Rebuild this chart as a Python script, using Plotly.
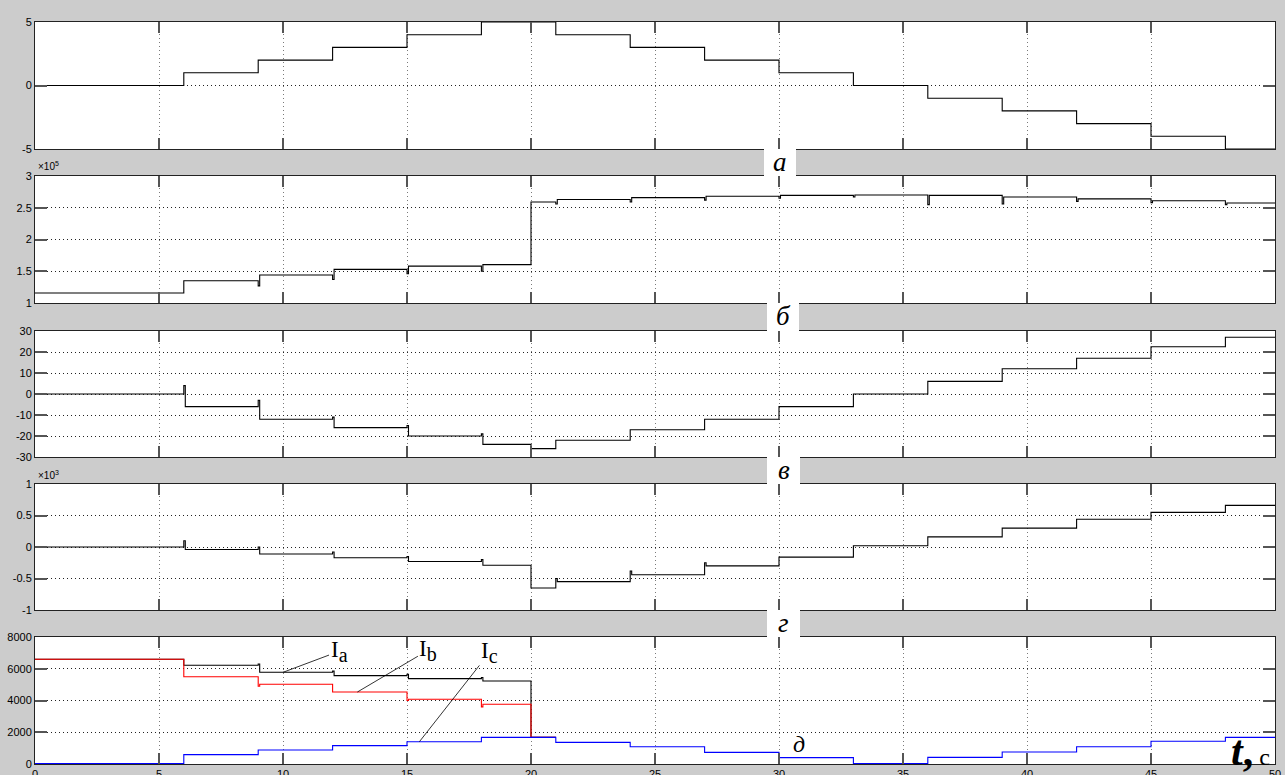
import plotly.graph_objects as go

# ---------------- data ----------------
# segment boundaries (s)
t_edges = [0, 6, 9, 12, 15, 18, 20, 21, 24, 27, 30, 33, 36, 39, 42, 45, 48, 50]

# panel а
a_levels = [0, 1, 2, 3, 4, 5, 5, 4, 3, 2, 1, 0, -1, -2, -3, -4, -5]
a_spikes = [None] * 16

# panel б  (values, axis shown in units of 10^5)
b_levels = [115700, 135000, 144000, 153000, 158000, 160500, 259000, 263000, 266000,
            268000, 269500, 270000, 269500, 267000, 264000, 261000, 257500]
b_spikes = [None, 127000, 137000, 146000, 150000, None, 256000, 259000, 262000,
            265000, 267000, 255000, 256000, 260000, 258000, 255000]

# panel в
c_levels = [0, -6, -12, -16, -20, -24, -26, -22, -17, -12, -6, 0, 6, 12, 17, 22.5, 27]
c_spikes = [4, -3, -11, -15, -19, None, None, None, None, None, None, None, None, None, None, None]

# panel г  (values, axis shown in units of 10^3)
d_levels = [0, -40, -110, -170, -230, -290, -650, -550, -440, -300, -160, 20, 160, 300,
            440, 550, 660]
d_spikes = [100, 0, -80, -150, -200, None, -500, -380, -250, None, None, None, None, None,
            None, None]

# panel д : phase currents
i_edges = [0, 6, 9, 12, 15, 18, 20, 21]
ia_levels = [6600, 6220, 5775, 5565, 5375, 5230, 1680]
ia_spikes = [None, 6300, 5850, 5650, 5450, None]
ib_levels = [6600, 5500, 5020, 4535, 4075, 3760, 1680]
ib_spikes = [None, 4900, None, 4000, 3600, None]
ic_levels = [30, 590, 880, 1155, 1405, 1680, 1680, 1365, 1090, 735, 400, 30, 420, 755,
             1090, 1430, 1680]

x_ticks = list(range(0, 51, 5))
panel_letters = ["а", "б", "в", "г"]


def steps(edges, levels, spikes=None, dt=0.06):
    xs, ys = [edges[0]], [levels[0]]
    for i in range(1, len(levels)):
        T = edges[i]
        sp = spikes[i - 1] if spikes is not None and i - 1 < len(spikes) else None
        if sp is not None:
            xs += [T, T + dt]
            ys += [sp, levels[i]]
        else:
            xs.append(T)
            ys.append(levels[i])
    xs.append(edges[-1])
    ys.append(levels[-1])
    return xs, ys


# ---------------- layout geometry ----------------
W, H = 1285, 775
ML, MR, MT, MB = 35, 10, 22, 11
PW, PH = W - ML - MR, H - MT - MB


def py(px):  # pixel y -> paper y
    return (H - MB - px) / PH


def pxx(px):  # pixel x -> paper x
    return (px - ML) / PW


panels_px = [(22, 149), (176, 303), (331, 457), (484, 610), (637, 764)]
domains = [[py(b), py(t)] for t, b in panels_px]

fig = go.Figure()
FONT = "Liberation Sans"
SERIF = "Liberation Serif"


def add(xs, ys, idx, color="black", width=1.1, scale=1.0):
    fig.add_trace(go.Scatter(
        x=xs, y=[v / scale for v in ys], mode="lines", line=dict(color=color, width=width, shape="hv"),
        xaxis="x" if idx == 1 else f"x{idx}", yaxis="y" if idx == 1 else f"y{idx}",
        showlegend=False, hoverinfo="skip"))


add(*steps(t_edges, a_levels, a_spikes), 1)
add(*steps(t_edges, b_levels, b_spikes), 2, scale=1e5)
add(*steps(t_edges, c_levels, c_spikes), 3)
add(*steps(t_edges, d_levels, d_spikes), 4, scale=1e3)
add(*steps(i_edges, ia_levels, ia_spikes), 5, color="black")
add(*steps(i_edges, ib_levels, ib_spikes), 5, color="#ff0000")
add(*steps(t_edges, ic_levels), 5, color="#0000ff")

y_specs = [
    dict(range=[-5, 5], tickvals=[-5, 0, 5], ticktext=["-5", "0", "5"]),
    dict(range=[1, 3], tickvals=[1, 1.5, 2, 2.5, 3], ticktext=["1", "1.5", "2", "2.5", "3"]),
    dict(range=[-30, 30], tickvals=[-30, -20, -10, 0, 10, 20, 30],
         ticktext=["-30", "-20", "-10", "0", "10", "20", "30"]),
    dict(range=[-1, 1], tickvals=[-1, -0.5, 0, 0.5, 1], ticktext=["-1", "-0.5", "0", "0.5", "1"]),
    dict(range=[0, 8000], tickvals=[0, 2000, 4000, 6000, 8000],
         ticktext=["0", "2000", "4000", "6000", "8000"]),
]

common = dict(ticks="inside", tickcolor="#555555", tickwidth=1.5, showline=True, linecolor="#222222",
              linewidth=1, mirror="ticks", showgrid=True, griddash="1px,3px", zeroline=False,
              automargin=False, tickfont=dict(family=FONT, size=11, color="black"))
lay = {}
for i in range(1, 6):
    xn = "xaxis" if i == 1 else f"xaxis{i}"
    yn = "yaxis" if i == 1 else f"yaxis{i}"
    lay[xn] = dict(domain=[0, 1], range=[0, 50], anchor="y" if i == 1 else f"y{i}",
                   tickvals=x_ticks, ticktext=[str(v) for v in x_ticks], ticklen=11,
                   gridcolor="#7a7a7a", gridwidth=1, showticklabels=(i == 5), **common)
    lay[yn] = dict(domain=domains[i - 1], anchor="x" if i == 1 else f"x{i}", ticklen=12,
                   gridcolor="#222222", gridwidth=1, **y_specs[i - 1], **common)

fig.update_layout(width=W, height=H, margin=dict(l=ML, r=MR, t=MT, b=MB, pad=0, autoexpand=False),
                  paper_bgcolor="#cccccc", plot_bgcolor="white", **lay)

# white label boxes in the gaps
boxes = [(764, 796, 149, 176), (767, 799, 303, 331), (767, 800, 457, 484), (767, 800, 610, 637)]
shapes = []
annos = []
for (x0, x1, y0, y1), letter in zip(boxes, panel_letters):
    shapes.append(dict(type="rect", xref="paper", yref="paper", x0=pxx(x0), x1=pxx(x1),
                       y0=py(y1), y1=py(y0), fillcolor="white", line=dict(width=0), layer="above"))
    annos.append(dict(xref="paper", yref="paper", x=pxx((x0 + x1) / 2), y=py((y0 + y1) / 2 - 1),
                      text=f"<i>{letter}</i>", showarrow=False, xanchor="center", yanchor="middle",
                      font=dict(family=SERIF, size=27, color="black")))
fig.update_layout(shapes=shapes)

# exponent labels
for txt, ypx in [("×10<sup>5</sup>", 166), ("×10<sup>3</sup>", 475)]:
    annos.append(dict(xref="paper", yref="paper", x=pxx(36), y=py(ypx), text=txt, showarrow=False,
                      xanchor="left", yanchor="middle", font=dict(family=FONT, size=10, color="black")))

# phase labels with leader lines
for name, tx, ty, ax, ay in [("a", 10, 5775, 56, -21), ("b", 13, 4535, 71, -42), ("c", 15.5, 1405, 70, -89)]:
    annos.append(dict(xref="x5", yref="y5", x=tx, y=ty, ax=ax, ay=ay, axref="pixel", ayref="pixel",
                      text=f"I<sub><span style='font-size:20px'>{name}</span></sub>", showarrow=True,
                      arrowhead=0, arrowwidth=0.8, arrowcolor="black",
                      font=dict(family=SERIF, size=23, color="black")))

annos.append(dict(xref="x5", yref="y5", x=30.8, y=1260, text="<i>д</i>", showarrow=False,
                  xanchor="center", yanchor="middle", font=dict(family=SERIF, size=24, color="black")))
annos.append(dict(xref="paper", yref="paper", x=pxx(1272), y=py(751),
                  text="<span style='font-size:42px'><b><i>t</i>,</b></span> <span style='font-size:24px'>с</span>",
                  showarrow=False, xanchor="right", yanchor="middle",
                  font=dict(family=SERIF, size=24, color="black")))
fig.update_layout(annotations=annos)

fig.write_html("out.html", config={"displayModeBar": False},
               post_script="document.body.style.margin='0';document.body.style.overflow='hidden';")
